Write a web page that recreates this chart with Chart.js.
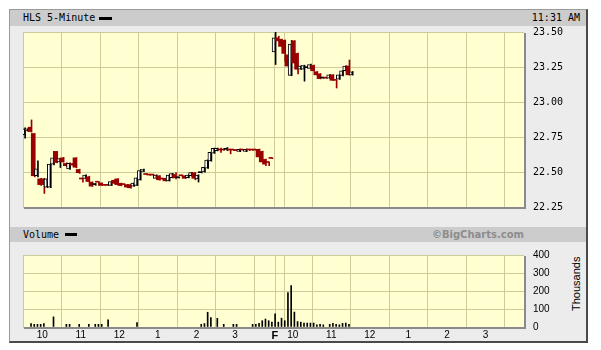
<!DOCTYPE html>
<html>
<head>
<meta charset="utf-8">
<script src="https://cdn.jsdelivr.net/npm/chart.js@4.4.1/dist/chart.umd.min.js"></script>
<style>
  html, body { margin: 0; padding: 0; background: #fff; }
  #wrap { position: relative; width: 601px; height: 350px; overflow: hidden; font-family: "DejaVu Sans Mono", monospace; font-size: 10px; color: #000; }
  #frame { position: absolute; left: 9px; top: 9px; width: 576px; height: 331px; background: #ececec;
           border-top: 1px solid #9a9a9a; border-left: 1px solid #9a9a9a; border-right: 2px solid #4a4a4a; border-bottom: 2px solid #4a4a4a; }
  .band { position: absolute; left: 10px; width: 576px; background: #cccccc; }
  .txt { position: absolute; white-space: nowrap; }
  .key { position: absolute; background: #000; height: 3px; }
  canvas { position: absolute; left: 0; }
</style>
</head>
<body>
<div id="wrap">
  <div id="frame"></div>
  <div class="band" style="top:10px;height:16px"></div>
  <div class="txt" style="left:23px;top:10px;line-height:16px">HLS 5-Minute</div>
  <div class="key" style="left:99px;top:17px;width:13px"></div>
  <div class="txt" style="right:21px;top:10px;line-height:16px">11:31 AM</div>

  <div class="band" style="top:227px;height:15px"></div>
  <div class="txt" style="left:23px;top:227px;line-height:15px">Volume</div>
  <div class="key" style="left:65px;top:233px;width:12px"></div>
  <div class="txt" style="right:77px;top:227px;line-height:15px;font-family:'DejaVu Sans';font-weight:bold;color:#8c8c8c">©BigCharts.com</div>
  <div class="txt" style="left:549px;top:278px;width:54px;line-height:12px;text-align:center;font-family:'Liberation Sans';font-size:11px;transform:rotate(-90deg)">Thousands</div>

  <canvas id="priceChart" width="601" height="222" style="top:0"></canvas>
  <canvas id="volumeChart" width="601" height="110" style="top:240px"></canvas>
</div>
<script>
// 5-minute bars, [open, high, low, close]
const day1Candles = [
  [22.766, 22.815, 22.741, 22.809], [22.793, 22.812, 22.790, 22.809], [22.820, 22.872, 22.785, 22.789],
  [22.775, 22.775, 22.465, 22.473], [22.473, 22.579, 22.465, 22.522], [22.451, 22.455, 22.405, 22.410],
  [22.451, 22.455, 22.347, 22.410], [22.392, 22.455, 22.388, 22.451], [22.392, 22.560, 22.388, 22.556],
  [22.556, 22.647, 22.550, 22.601], [22.647, 22.647, 22.565, 22.568], [22.572, 22.598, 22.532, 22.595],
  [22.601, 22.605, 22.570, 22.572], [22.561, 22.565, 22.540, 22.545], [22.522, 22.566, 22.518, 22.562],
  [22.560, 22.562, 22.548, 22.550], [22.601, 22.603, 22.530, 22.534], [22.518, 22.520, 22.490, 22.495],
  [22.453, 22.455, 22.428, 22.450], [22.455, 22.480, 22.452, 22.478], [22.466, 22.470, 22.430, 22.432],
  [22.428, 22.430, 22.397, 22.399], [22.410, 22.418, 22.405, 22.410], [22.430, 22.432, 22.405, 22.427],
  [22.421, 22.423, 22.403, 22.405], [22.407, 22.408, 22.404, 22.405], [22.407, 22.408, 22.404, 22.405],
  [22.405, 22.434, 22.403, 22.432], [22.441, 22.443, 22.417, 22.419], [22.451, 22.453, 22.408, 22.410],
  [22.419, 22.421, 22.401, 22.403], [22.412, 22.413, 22.409, 22.410], [22.410, 22.412, 22.390, 22.392],
  [22.410, 22.412, 22.385, 22.387], [22.399, 22.423, 22.397, 22.421], [22.405, 22.461, 22.403, 22.459],
  [22.444, 22.518, 22.442, 22.511], [22.505, 22.520, 22.503, 22.518], [22.484, 22.486, 22.481, 22.482],
  [22.480, 22.482, 22.477, 22.478], [22.480, 22.482, 22.477, 22.478], [22.455, 22.480, 22.453, 22.478],
  [22.473, 22.475, 22.442, 22.444], [22.452, 22.454, 22.449, 22.450], [22.455, 22.457, 22.435, 22.437],
  [22.437, 22.480, 22.435, 22.478], [22.459, 22.491, 22.457, 22.489], [22.482, 22.495, 22.450, 22.459],
  [22.459, 22.461, 22.457, 22.459], [22.475, 22.477, 22.472, 22.473], [22.473, 22.475, 22.453, 22.455],
  [22.459, 22.480, 22.457, 22.478], [22.473, 22.497, 22.471, 22.495], [22.495, 22.497, 22.444, 22.455],
  [22.451, 22.480, 22.428, 22.478], [22.495, 22.497, 22.493, 22.495], [22.500, 22.536, 22.498, 22.534],
  [22.527, 22.588, 22.525, 22.586], [22.579, 22.642, 22.577, 22.640], [22.635, 22.671, 22.633, 22.669],
  [22.653, 22.671, 22.651, 22.669], [22.659, 22.670, 22.640, 22.657], [22.659, 22.661, 22.655, 22.657],
  [22.662, 22.675, 22.652, 22.662], [22.659, 22.661, 22.630, 22.657], [22.659, 22.661, 22.655, 22.657],
  [22.655, 22.657, 22.651, 22.653], [22.647, 22.664, 22.645, 22.662], [22.659, 22.661, 22.655, 22.657],
  [22.647, 22.664, 22.645, 22.662], [22.659, 22.661, 22.655, 22.657], [22.659, 22.661, 22.655, 22.657],
  [22.659, 22.661, 22.655, 22.657], [22.662, 22.664, 22.606, 22.608], [22.647, 22.649, 22.570, 22.572],
  [22.590, 22.592, 22.545, 22.556], [22.570, 22.572, 22.545, 22.568], [22.599, 22.600, 22.595, 22.597]
];
const day2Candles = [
  [23.358, 23.500, 23.268, 23.459], [23.459, 23.470, 23.435, 23.437], [23.448, 23.450, 23.395, 23.397],
  [23.441, 23.443, 23.290, 23.347], [23.336, 23.338, 23.255, 23.257], [23.190, 23.440, 23.188, 23.414],
  [23.437, 23.439, 23.277, 23.279], [23.347, 23.349, 23.200, 23.234], [23.234, 23.259, 23.232, 23.257],
  [23.234, 23.263, 23.149, 23.261], [23.245, 23.247, 23.243, 23.245], [23.239, 23.270, 23.237, 23.268],
  [23.261, 23.263, 23.221, 23.223], [23.216, 23.218, 23.192, 23.194], [23.201, 23.203, 23.165, 23.167],
  [23.171, 23.173, 23.169, 23.171], [23.173, 23.175, 23.169, 23.171], [23.171, 23.196, 23.169, 23.194],
  [23.194, 23.196, 23.153, 23.155], [23.157, 23.159, 23.100, 23.155], [23.163, 23.196, 23.161, 23.194],
  [23.189, 23.225, 23.187, 23.223], [23.223, 23.259, 23.221, 23.257], [23.257, 23.300, 23.192, 23.194],
  [23.194, 23.218, 23.192, 23.216]
];
// volume in thousands, null = too small to show
const day1Volume = [
  null, null, 19, 15, 15, 15, 19, null, null, 56, null, null, null, 15, 15, null, null, 15, null, null,
  15, null, 15, 15, 15, null, 40, null, null, null, null, null, null, null, null, 25, null, null, null, null,
  null, null, null, null, null, null, null, null, null, null, null, null, null, null, null, 15, 19, 82, 52, null,
  48, null, 15, null, null, 15, 15, null, null, null, null, 15, 15, 20, 35, 44, 35, 27
];
const day2Volume = [
  73, 27, 49, 35, 191, 230, 83, 30, 27, 22, 22, 22, 22, 12, 15, 12, null, 15, 20, 15, 12, 20, 22, 15, null
];
const priceTicks = [22.25, 22.50, 22.75, 23.00, 23.25, 23.50];
const volumeTicks = [0, 100, 200, 300, 400];
const hourSlots = [6, 18, 30, 42, 54, 66, 84, 96, 108, 120, 132, 144];
const hourLabels = ['10', '11', '12', '1', '2', '3', '10', '11', '12', '1', '2', '3'];
const dayBreakSlots = [78, 78.75];
const dayLabel = 'F';
const dayLabelSlot = 78.4;
const slotsPerDay = 78;

const RED = '#990000';
const GRID = '#cccc99';

const candles = day1Candles.map((c, i) => ({ slot: i, c }))
  .concat(day2Candles.map((c, i) => ({ slot: slotsPerDay + i, c })));
const volumes = day1Volume.map((v, i) => ({ x: i + 0.5, y: v }))
  .concat(day2Volume.map((v, i) => ({ x: slotsPerDay + i + 0.5, y: v })))
  .filter(p => p.y !== null);

const gridSlots = hourSlots.concat(dayBreakSlots).sort((a, b) => a - b);

function bodyColor(c) {
  if (c[3] > c[0]) return '#ffffff';
  if (c[3] < c[0]) return RED;
  return '#000000';
}

const plotBox = {
  id: 'plotBox',
  beforeDraw(chart) {
    const a = chart.chartArea, ctx = chart.ctx;
    ctx.save();
    ctx.fillStyle = '#ffffd2';
    ctx.fillRect(a.left, a.top, a.right - a.left, a.bottom - a.top);
    ctx.restore();
  },
  afterDraw(chart) {
    const a = chart.chartArea, ctx = chart.ctx;
    ctx.save();
    ctx.fillStyle = '#8a8a8a';
    ctx.fillRect(a.right, a.top + 1, 2, a.bottom - a.top + 1);
    ctx.fillRect(a.left + 1, a.bottom, a.right - a.left + 1, 2);
    ctx.restore();
  }
};

function xAxis(showLabels) {
  return {
    type: 'linear',
    min: 0,
    max: slotsPerDay * 2,
    offset: false,
    border: { display: false },
    grid: {
      drawTicks: false,
      color: ctx => (ctx.tick && ctx.tick.value === dayLabelSlot) ? 'rgba(0,0,0,0)' : GRID
    },
    ticks: {
      display: showLabels,
      padding: 2,
      color: '#000',
      maxRotation: 0,
      autoSkip: false,
      font: ctx => (ctx.tick && ctx.tick.value === dayLabelSlot)
        ? { family: 'Liberation Sans', size: 11, weight: 'bold' }
        : { family: 'Liberation Sans', size: 10 },
      callback: v => {
        if (v === dayLabelSlot) return dayLabel;
        const k = hourSlots.indexOf(v);
        return k >= 0 ? hourLabels[k] : '';
      }
    },
    afterBuildTicks: axis => {
      const vals = showLabels ? gridSlots.concat([dayLabelSlot]).sort((a, b) => a - b) : gridSlots;
      axis.ticks = vals.map(v => ({ value: v }));
    },
    afterFit: s => { s.height = showLabels ? 23 : 0; }
  };
}

new Chart(document.getElementById('priceChart').getContext('2d'), {
  type: 'bar',
  data: {
    datasets: [
      {
        // candle bodies
        data: candles.map(k => ({ x: k.slot + 0.5, y: [k.c[0], k.c[3]] })),
        backgroundColor: candles.map(k => bodyColor(k.c)),
        borderColor: candles.map(k => k.c[3] > k.c[0] ? '#000000' : bodyColor(k.c)),
        borderWidth: candles.map(k => k.c[3] > k.c[0] ? 1 : 0),
        borderSkipped: false,
        barThickness: 3,
        minBarLength: 1,
        order: 0
      },
      {
        // wicks
        data: candles.map(k => ({ x: k.slot + 0.5, y: [k.c[2], k.c[1]] })),
        backgroundColor: candles.map(k => k.c[3] < k.c[0] ? RED : '#000000'),
        borderWidth: 0,
        barThickness: 1,
        minBarLength: 1,
        order: 1
      }
    ]
  },
  options: {
    responsive: false,
    animation: false,
    devicePixelRatio: 1,
    layout: { padding: { left: 23, top: 32, right: 0, bottom: 5 } },
    plugins: { legend: { display: false }, tooltip: { enabled: false } },
    scales: {
      x: xAxis(false),
      y: {
        position: 'right',
        min: 22.25,
        max: 23.5,
        border: { display: false },
        grid: { color: GRID, drawTicks: false },
        ticks: {
          color: '#000',
          padding: 9,
          font: { family: 'DejaVu Sans Mono', size: 10 },
          callback: v => v.toFixed(2)
        },
        afterBuildTicks: axis => { axis.ticks = priceTicks.map(v => ({ value: v })); },
        afterFit: s => { s.width = 77; }
      }
    }
  },
  plugins: [plotBox]
});

new Chart(document.getElementById('volumeChart').getContext('2d'), {
  type: 'bar',
  data: {
    datasets: [{
      data: volumes,
      backgroundColor: '#000000',
      borderWidth: 0,
      barThickness: 1
    }]
  },
  options: {
    responsive: false,
    animation: false,
    devicePixelRatio: 1,
    layout: { padding: { left: 23, top: 8, right: 0, bottom: 0 } },
    plugins: { legend: { display: false }, tooltip: { enabled: false } },
    scales: {
      x: xAxis(true),
      y: {
        position: 'right',
        min: 0,
        max: 400,
        border: { display: false },
        grid: { color: GRID, drawTicks: false },
        ticks: {
          color: '#000',
          padding: 9,
          font: { family: 'Liberation Sans', size: 10 }
        },
        afterBuildTicks: axis => { axis.ticks = volumeTicks.map(v => ({ value: v })); },
        afterFit: s => { s.width = 77; }
      }
    }
  },
  plugins: [plotBox]
});
</script>
</body>
</html>
